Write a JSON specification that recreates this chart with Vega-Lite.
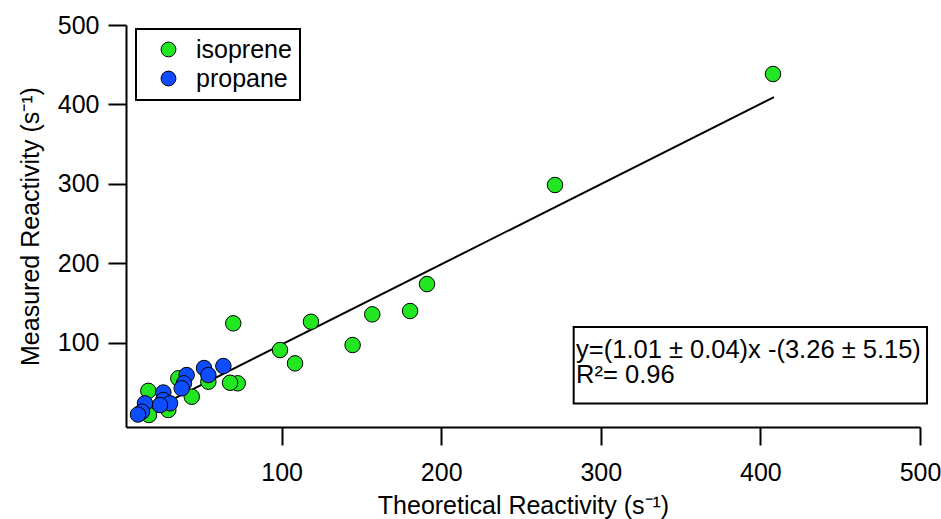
{
  "$schema": "https://vega.github.io/schema/vega-lite/v6.json",
  "description": "Measured vs theoretical reactivity, isoprene and propane",
  "width": 794,
  "height": 402,
  "autosize": {"type": "none"},
  "padding": {"left": 126, "top": 25, "right": 21, "bottom": 92},
  "background": "white",
  "datasets": {
    "points": [
      {"x": 407.9, "y": 438.3, "gas": "isoprene"},
      {"x": 271.3, "y": 298.6, "gas": "isoprene"},
      {"x": 191.1, "y": 173.9, "gas": "isoprene"},
      {"x": 180.5, "y": 140.0, "gas": "isoprene"},
      {"x": 156.8, "y": 135.8, "gas": "isoprene"},
      {"x": 144.5, "y": 97.2, "gas": "isoprene"},
      {"x": 118.4, "y": 126.5, "gas": "isoprene"},
      {"x": 99.0, "y": 90.9, "gas": "isoprene"},
      {"x": 108.4, "y": 74.1, "gas": "isoprene"},
      {"x": 69.7, "y": 124.5, "gas": "isoprene"},
      {"x": 72.5, "y": 49.0, "gas": "isoprene"},
      {"x": 67.7, "y": 49.7, "gas": "isoprene"},
      {"x": 54.1, "y": 51.0, "gas": "isoprene"},
      {"x": 35.3, "y": 55.3, "gas": "isoprene"},
      {"x": 43.7, "y": 32.1, "gas": "isoprene"},
      {"x": 16.5, "y": 39.5, "gas": "isoprene"},
      {"x": 29.0, "y": 15.4, "gas": "isoprene"},
      {"x": 16.9, "y": 9.1, "gas": "isoprene"},
      {"x": 63.5, "y": 70.7, "gas": "propane"},
      {"x": 51.4, "y": 68.2, "gas": "propane"},
      {"x": 54.1, "y": 59.4, "gas": "propane"},
      {"x": 40.5, "y": 59.4, "gas": "propane"},
      {"x": 38.8, "y": 49.0, "gas": "propane"},
      {"x": 37.4, "y": 42.7, "gas": "propane"},
      {"x": 25.9, "y": 37.4, "gas": "propane"},
      {"x": 25.9, "y": 27.9, "gas": "propane"},
      {"x": 30.1, "y": 23.8, "gas": "propane"},
      {"x": 23.8, "y": 21.6, "gas": "propane"},
      {"x": 14.4, "y": 23.8, "gas": "propane"},
      {"x": 12.5, "y": 13.2, "gas": "propane"},
      {"x": 10.0, "y": 9.7, "gas": "propane"}
    ],
    "fit": [
      {"x": 10.0, "y": 6.84},
      {"x": 408.5, "y": 409.33}
    ],
    "box": [
      {"x": 283.0, "x2": 504.4, "y": 119.8, "y2": 23.5}
    ],
    "notes": [
      {"x": 284.5, "y": 81.2, "label": "y=(1.01 ± 0.04)x -(3.26 ± 5.15)"},
      {"x": 284.5, "y": 49.0, "label": "R²= 0.96"}
    ]
  },
  "encoding": {
    "x": {
      "field": "x",
      "type": "quantitative",
      "scale": {"domain": [2.5, 500], "nice": false, "zero": false},
      "axis": {
        "title": "Theoretical Reactivity (s⁻¹)",
        "values": [100, 200, 300, 400, 500],
        "labelPadding": 15,
        "titlePadding": 8
      }
    },
    "y": {
      "field": "y",
      "type": "quantitative",
      "scale": {"domain": [-6, 500], "nice": false, "zero": false},
      "axis": {
        "title": "Measured Reactivity (s⁻¹)",
        "values": [100, 200, 300, 400, 500],
        "labelPadding": 9,
        "titlePadding": 14
      }
    }
  },
  "layer": [
    {
      "data": {"name": "box"},
      "mark": {"type": "rect", "filled": false, "stroke": "black", "strokeWidth": 2},
      "encoding": {
        "x2": {"field": "x2"},
        "y2": {"field": "y2"}
      }
    },
    {
      "data": {"name": "notes"},
      "mark": {"type": "text", "align": "left", "baseline": "alphabetic", "fontSize": 25.5, "color": "black"},
      "encoding": {
        "text": {"field": "label"}
      }
    },
    {
      "data": {"name": "fit"},
      "mark": {"type": "line", "color": "black", "strokeWidth": 2},
      "encoding": {}
    },
    {
      "data": {"name": "points"},
      "mark": {"type": "point", "filled": true, "size": 240, "stroke": "black", "strokeWidth": 1, "opacity": 1},
      "encoding": {
        "color": {
          "field": "gas",
          "type": "nominal",
          "scale": {"domain": ["isoprene", "propane"], "range": ["#22e622", "#0d4cff"]},
          "legend": {
            "title": null,
            "orient": "none",
            "legendX": 10,
            "legendY": 4,
            "strokeColor": "black",
            "fillColor": "white",
            "padding": 8,
            "symbolOffset": 12,
            "labelOffset": 15,
            "labelFontSize": 25,
            "labelColor": "black",
            "symbolSize": 220,
            "symbolType": "circle",
            "symbolStrokeColor": "black",
            "symbolStrokeWidth": 1,
            "rowPadding": 3
          }
        }
      }
    }
  ],
  "config": {
    "font": "Liberation Sans",
    "view": {"stroke": null},
    "legend": {"strokeWidth": 2},
    "axis": {
      "grid": false,
      "domainColor": "black",
      "domainWidth": 2,
      "tickColor": "black",
      "tickWidth": 2,
      "tickSize": 18,
      "labelFontSize": 25,
      "labelColor": "black",
      "labelFlush": false,
      "labelOverlap": false,
      "titleFontSize": 25,
      "titleFontWeight": "normal",
      "titleColor": "black"
    }
  }
}
